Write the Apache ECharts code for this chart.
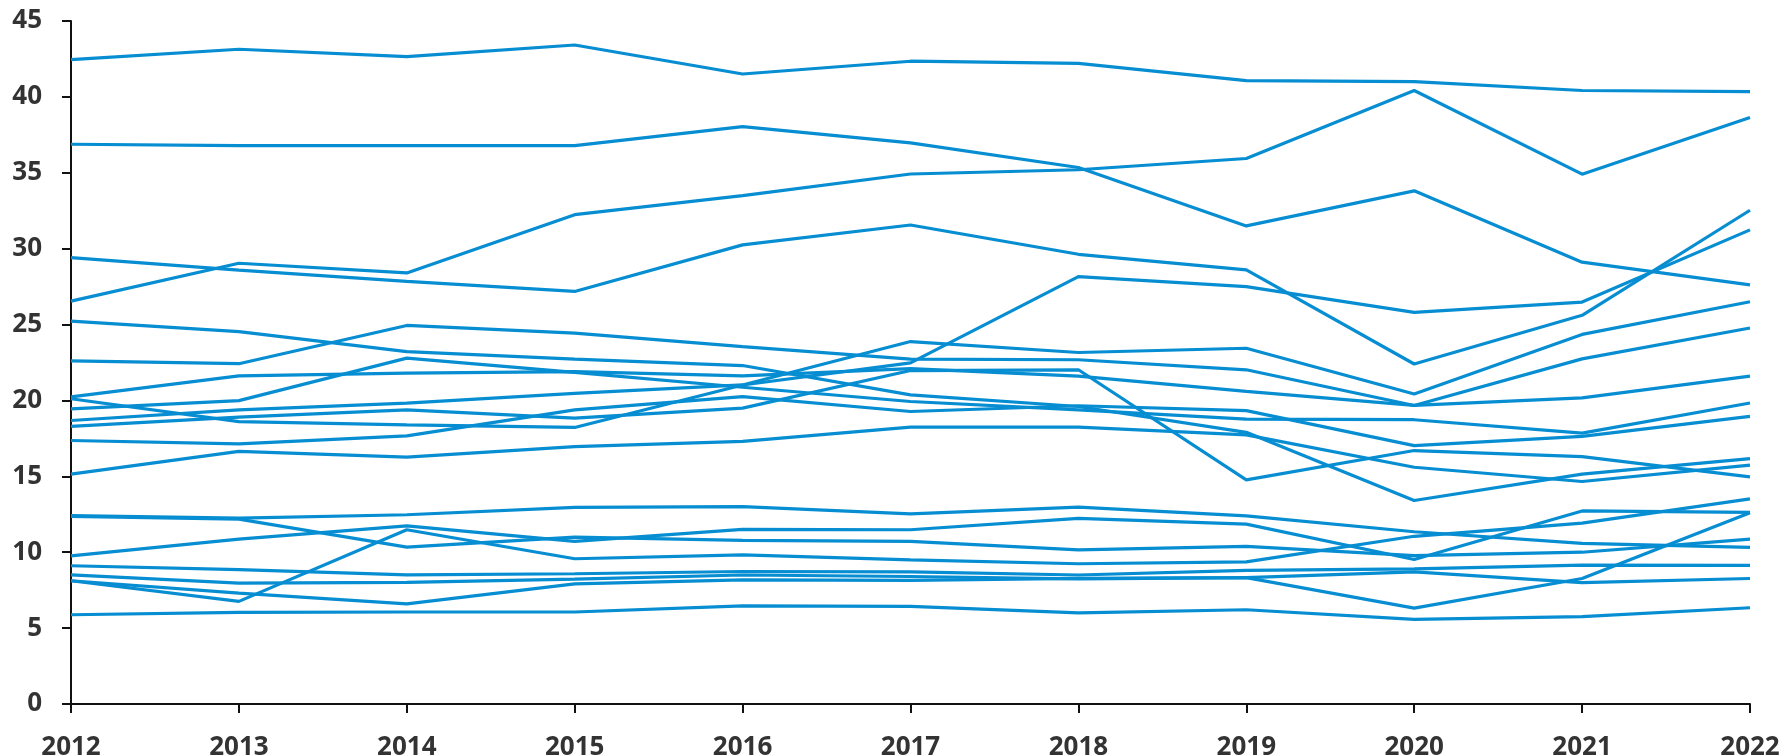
<!DOCTYPE html>
<html>
<head>
<meta charset="utf-8">
<script src="https://cdn.jsdelivr.net/npm/echarts@6/dist/echarts.min.js"></script>
<style>
html,body{margin:0;padding:0;background:#fff;}
#chart{width:1785px;height:756px;}
</style>
</head>
<body>
<div id="chart"></div>
<script>
var years = ['2012','2013','2014','2015','2016','2017','2018','2019','2020','2021','2022'];

var s01 = [42.46, 43.14, 42.65, 43.42, 41.51, 42.35, 42.21, 41.07, 41.00, 40.42, 40.35];
var s02 = [36.88, 36.79, 36.79, 36.79, 38.04, 36.97, 35.35, 31.50, 33.81, 29.11, 27.62];
var s03 = [26.54, 29.04, 28.40, 32.24, 33.50, 34.92, 35.20, 35.94, 40.42, 34.91, 38.64];
var s04 = [29.41, 28.58, 27.84, 27.18, 30.25, 31.56, 29.63, 28.60, 22.40, 25.61, 32.53];
var s05 = [25.22, 24.54, 23.22, 22.72, 22.30, 20.37, 19.60, 17.90, 13.41, 15.15, 16.17];
var s06 = [22.61, 22.42, 24.94, 24.43, 23.55, 22.72, 22.68, 22.02, 19.67, 22.74, 24.77];
var s07 = [20.24, 21.62, 21.80, 21.90, 21.62, 22.10, 21.60, 20.60, 19.68, 20.17, 21.60];
var s08 = [20.11, 18.61, 18.39, 18.22, 21.02, 23.88, 23.16, 23.44, 20.42, 24.35, 26.50];
var s09 = [19.45, 19.99, 22.79, 21.85, 20.87, 19.93, 19.38, 18.77, 18.73, 17.85, 19.83];
var s10 = [18.68, 19.38, 19.82, 20.47, 21.02, 22.48, 28.16, 27.50, 25.80, 26.48, 31.24];
var s11 = [18.29, 18.90, 19.38, 18.83, 19.49, 21.97, 22.02, 14.77, 16.70, 16.30, 14.97];
var s12 = [17.36, 17.14, 17.67, 19.38, 20.25, 19.27, 19.65, 19.33, 17.02, 17.63, 18.95];
var s13 = [15.15, 16.64, 16.27, 16.96, 17.30, 18.24, 18.24, 17.73, 15.60, 14.66, 15.74];
var s14 = [12.42, 12.25, 12.47, 12.95, 13.01, 12.53, 12.97, 12.40, 11.35, 10.58, 10.32];
var s15 = [12.36, 12.18, 10.34, 10.99, 10.78, 10.71, 10.16, 10.38, 9.78, 10.00, 10.86];
var s16 = [9.76, 10.86, 11.74, 10.71, 11.50, 11.48, 12.23, 11.85, 9.52, 12.72, 12.63];
var s17 = [8.12, 6.76, 11.48, 9.57, 9.83, 9.50, 9.24, 9.36, 11.05, 11.92, 13.52];
var s18 = [9.11, 8.85, 8.51, 8.58, 8.73, 8.70, 8.50, 8.80, 8.90, 9.15, 9.13];
var s19 = [8.51, 7.96, 8.01, 8.23, 8.50, 8.40, 8.25, 8.33, 6.32, 8.27, 12.60];
var s20 = [8.12, 7.30, 6.60, 7.92, 8.18, 8.15, 8.28, 8.33, 8.70, 8.00, 8.27];
var s21 = [5.88, 6.04, 6.06, 6.06, 6.47, 6.43, 6.00, 6.21, 5.58, 5.76, 6.34];

var allSeries = [s01,s02,s03,s04,s05,s06,s07,s08,s09,s10,s11,s12,s13,s14,s15,s16,s17,s18,s19,s20,s21];
var lineColor = '#078dd1';
var axisColor = '#111111';
var labelColor = '#333333';

var chart = echarts.init(document.getElementById('chart'), null, {renderer: 'canvas'});
chart.setOption({
  animation: false,
  backgroundColor: '#ffffff',
  grid: {left: 71, right: 35, top: 21, bottom: 52, containLabel: false, outerBoundsMode: 'none'},
  xAxis: {
    type: 'category',
    data: years,
    boundaryGap: false,
    axisLine: {show: true, lineStyle: {color: axisColor, width: 2}},
    axisTick: {show: true, alignWithLabel: true, length: 9, lineStyle: {color: axisColor, width: 2}},
    axisLabel: {color: labelColor, fontFamily: 'Open Sans', fontWeight: 'bold', fontSize: 26, margin: 31},
    splitLine: {show: false}
  },
  yAxis: {
    type: 'value',
    min: 0, max: 45, interval: 5,
    axisLine: {show: true, lineStyle: {color: axisColor, width: 2}},
    axisTick: {show: true, length: 9, lineStyle: {color: axisColor, width: 2}},
    axisLabel: {color: labelColor, fontFamily: 'Open Sans', fontWeight: 'bold', fontSize: 26, margin: 29},
    splitLine: {show: false}
  },
  series: allSeries.map(function (d, i) {
    return {
      name: 'S' + (i + 1),
      type: 'line',
      data: d,
      symbol: 'none',
      smooth: false,
      lineStyle: {color: lineColor, width: 3.2},
      emphasis: {disabled: true}
    };
  })
});
</script>
</body>
</html>
